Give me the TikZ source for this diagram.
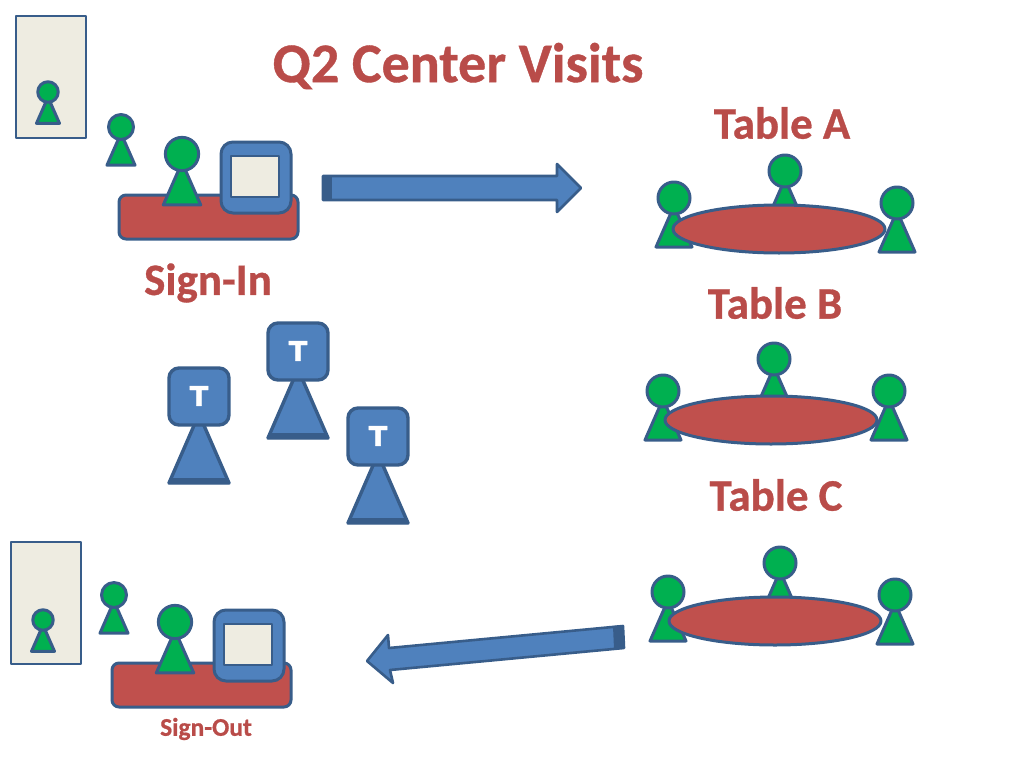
\documentclass[tikz,border=0pt]{standalone}
\usepackage{fontspec}
\setmainfont[BoldFeatures={FakeBold=0.7}]{Carlito}
\newfontfamily\letterfont[BoldFeatures={FakeBold=1.5}]{DejaVu Sans}
\definecolor{edgeblue}{HTML}{385D8A}
\definecolor{fillblue}{HTML}{4F81BD}
\definecolor{fillred}{HTML}{C0504D}
\definecolor{fillgreen}{HTML}{00B050}
\definecolor{fillcream}{HTML}{EEECE1}
\definecolor{textred}{HTML}{B94C49}
\tikzset{
  shape line/.style={draw=edgeblue,line width=3pt,line join=round},
  person/.style={shape line,fill=fillgreen},
  tutor/.style={shape line,line width=3.4pt,fill=fillblue},
  desk/.style={shape line,fill=fillred,rounded corners=7pt},
  tabletop/.style={shape line,fill=fillred},
  paper/.style={shape line,line width=2.4pt,fill=fillcream},
  heading/.style={text=textred,font=\bfseries\fontsize{#1}{#1}\selectfont,inner sep=0pt},
  big arrow/.style={shape line,line width=2.6pt,fill=fillblue}
}
\newcommand{\pawn}[3]{
\begin{scope}[shift={(#1,#2)},scale=#3]
\draw[person] (-18,49) -- (0,8) -- (18,49) -- cycle;
\draw[person] (0,0) circle[radius=16];
\end{scope}
}
\newcommand{\teacher}[3]{
\begin{scope}[shift={(#1,#2)}]
\draw[tutor] (0,46) -- (-30,115) -- (30,115) -- cycle;
\fill[edgeblue] (-29,110) -- (29,110) -- (31,116) -- (-31,116) -- cycle;
\draw[tutor,rounded corners=10pt] (-30,0) rectangle (30,57);
\node[text=white,font=\letterfont\bfseries\fontsize{27}{27}\selectfont,inner sep=0pt] (#3) at (0,28) {T};
\end{scope}
}
\newcommand{\station}{
\draw[desk] (119,195) rectangle (298,239);
\pawn{182}{154}{1.04}
\draw[shape line,fill=fillblue,rounded corners=12pt] (221,142) rectangle (291,213);
\draw[paper] (231,156) rectangle (279,197);
\pawn{121}{127}{0.78}
}
\begin{document}
\begin{tikzpicture}[x=1pt,y=-1pt]
\useasboundingbox (0,0) rectangle (1024,768);

\node[heading=56] (title) at (458,66) {Q2 Center Visits};
\node[heading=45] (tablea) at (782,123) {Table A};
\node[heading=45] (signin) at (208,283) {Sign-In};
\node[heading=45] (tableb) at (775,303) {Table B};
\node[heading=45] (tablec) at (776,495) {Table C};
\node[heading=25.5] (signout) at (206,729) {Sign-Out};

\draw[paper] (16,16) rectangle ++(70,122);
\pawn{48}{92}{0.64}
\station

\draw[paper] (11,542) rectangle ++(70,122);
\pawn{43}{620}{0.64}
\begin{scope}[shift={(-7,468)}]
\station
\end{scope}

\draw[big arrow] (323,176) -- (557,176) -- (557,164) -- (581,188) -- (557,212) -- (557,200) -- (323,200) -- cycle;
\fill[edgeblue] (323,176) rectangle (332,200);
\draw[big arrow] (623,626) -- (389,648) -- (388,635) -- (367,661) -- (393,683) -- (390,670) -- (624,648) -- cycle;
\fill[edgeblue] (623,625) -- (613,626) -- (614,649) -- (624,648) -- cycle;

\pawn{674}{198}{1}
\pawn{785}{171}{1}
\pawn{897}{203}{1}
\draw[tabletop] (779,229) ellipse[x radius=106,y radius=24];

\pawn{663}{391}{1}
\pawn{774}{359}{1}
\pawn{889}{391}{1}
\draw[tabletop] (771,420) ellipse[x radius=106,y radius=24];

\pawn{668}{592}{1}
\pawn{780}{563}{1}
\pawn{895}{595}{1}
\draw[tabletop] (775,621) ellipse[x radius=106,y radius=24];

\teacher{199}{368}{tutora}
\teacher{298}{323}{tutorb}
\teacher{378}{408}{tutorc}

\end{tikzpicture}
\end{document}
